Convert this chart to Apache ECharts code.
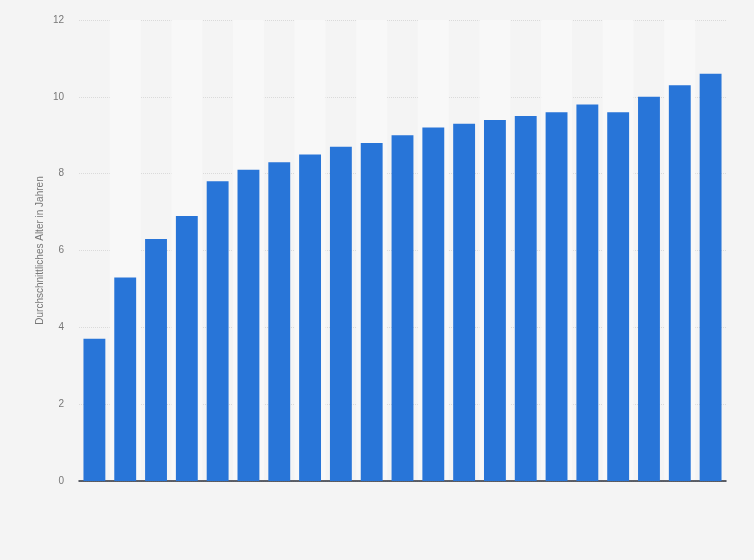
<!DOCTYPE html>
<html>
<head>
<meta charset="utf-8">
<script src="https://cdn.jsdelivr.net/npm/echarts@6/dist/echarts.min.js"></script>
<style>
html,body{margin:0;padding:0;background:#f4f4f4;}
#chart{width:754px;height:560px;}
</style>
</head>
<body>
<div id="chart"></div>
<script>
var categories = ['1','2','3','4','5','6','7','8','9','10','11','12','13','14','15','16','17','18','19','20','21'];
var values = [3.7, 5.3, 6.3, 6.9, 7.8, 8.1, 8.3, 8.5, 8.7, 8.8, 9.0, 9.2, 9.3, 9.4, 9.5, 9.6, 9.8, 9.6, 10.0, 10.3, 10.6];
var yTicks = [0, 2, 4, 6, 8, 10, 12];
var yAxisName = 'Durchschnittliches Alter in Jahren';

var chart = echarts.init(document.getElementById('chart'));
chart.setOption({
  backgroundColor: '#f4f4f4',
  animation: false,
  grid: { left: 79, right: 28, top: 20, bottom: 79 },
  xAxis: {
    type: 'category',
    data: categories,
    axisLine: { show: true, lineStyle: { color: '#2b2f3a', width: 1.5 } },
    axisTick: { show: false },
    axisLabel: { show: false },
    splitArea: { show: true, areaStyle: { color: ['rgba(0,0,0,0)', '#f8f8f8'] } }
  },
  yAxis: {
    type: 'value',
    min: yTicks[0],
    max: yTicks[yTicks.length - 1],
    interval: 2,
    name: yAxisName,
    nameLocation: 'middle',
    nameGap: 34,
    nameMoveOverlap: false,
    nameTextStyle: { color: '#777', fontSize: 10, fontFamily: 'Liberation Sans, Arial, sans-serif' },
    axisLine: { show: false },
    axisTick: { show: false },
    axisLabel: { color: '#777', fontSize: 10, margin: 15, fontFamily: 'Liberation Sans, Arial, sans-serif' },
    splitLine: { show: true, lineStyle: { color: '#dadada', type: 'dotted', width: 1 } }
  },
  series: [{
    type: 'bar',
    data: values,
    barCategoryGap: '29%',
    itemStyle: { color: '#2875d8' }
  }]
});
</script>
</body>
</html>
